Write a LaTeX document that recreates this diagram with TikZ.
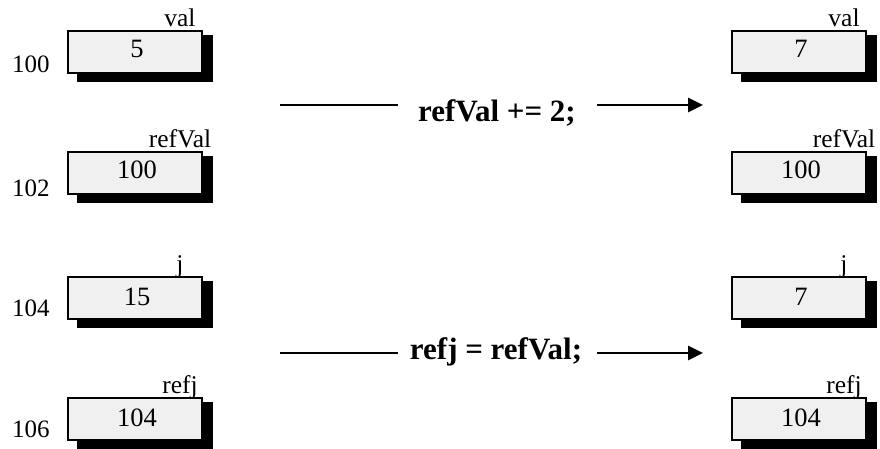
\documentclass[tikz,border=0pt]{standalone}
\usepackage{fontspec}
\setmainfont{Liberation Serif}
\usetikzlibrary{arrows.meta}
\pgfdeclarelayer{shadowlayer}
\pgfsetlayers{shadowlayer,main}
\definecolor{cellgray}{HTML}{F0F0F0}

% memory cell: name, left, top, value, variable name, value baseline offset
\newcommand\memcell[6]{%
  \node[cell] (#1) at (#2,#3) {};
  \begin{pgfonlayer}{shadowlayer}
    \fill[black] ([xshift=9pt,yshift=-4pt]#1.north west) rectangle ([xshift=11pt,yshift=-9pt]#1.south east);
  \end{pgfonlayer}
  \node[valtxt] (#1v) at ([xshift=2pt,yshift=-#6pt]#1.north) {#4};
  \node[txt] (#1n) at ([xshift=45pt,yshift=5pt]#1.north) {#5};
}

\begin{document}
\begin{tikzpicture}[x=1pt,y=-1pt,
  cell/.style={draw=black, fill=cellgray, line width=2.4pt, anchor=north west,
    minimum width=134pt, minimum height=42pt, inner sep=0pt, outer sep=0pt},
  txt/.style={anchor=base, inner sep=0pt, font=\fontsize{25.5}{30}\selectfont},
  valtxt/.style={anchor=base, inner sep=0pt, font=\fontsize{26.5}{30}\selectfont},
  addr/.style={anchor=base west, inner sep=0pt, font=\fontsize{25}{30}\selectfont},
  stmt/.style={anchor=base, inner sep=0pt, font=\fontsize{31}{36}\selectfont\bfseries},
  wire/.style={line width=2.7pt},
  arrowwire/.style={line width=2.7pt, -{Triangle[length=15pt,width=14pt]}}]
\useasboundingbox (0,0) rectangle (880,448);

% addresses
\node[addr] (a100) at (12,72) {100};
\node[addr] (a102) at (12,196) {102};
\node[addr] (a104) at (12,316) {104};
\node[addr] (a106) at (12,437) {106};

% memory before
\memcell{lval}{68}{31}{5}{val}{26}
\memcell{lref}{68}{152}{100}{refVal}{26}
\memcell{lj}{68}{277}{15}{j}{28}
\memcell{lrefj}{68}{398}{104}{refj}{28}

% memory after
\memcell{rval}{732}{31}{7}{val}{26}
\memcell{rref}{732}{152}{100}{refVal}{26}
\memcell{rj}{732}{277}{7}{j}{28}
\memcell{rrefj}{732}{398}{104}{refj}{28}

% statements
\node[stmt] (s1) at (497,121) {refVal += 2;};
\coordinate (s1a) at (280,105);
\coordinate (s1b) at (398,105);
\coordinate (s1c) at (597,105);
\coordinate (s1d) at (703,105);
\draw[wire] (s1a) -- (s1b);
\draw[arrowwire] (s1c) -- (s1d);

\node[stmt] (s2) at (496,359) {refj = refVal;};
\coordinate (s2a) at (280,353);
\coordinate (s2b) at (398,353);
\coordinate (s2c) at (597,353);
\coordinate (s2d) at (703,353);
\draw[wire] (s2a) -- (s2b);
\draw[arrowwire] (s2c) -- (s2d);
\end{tikzpicture}
\end{document}
